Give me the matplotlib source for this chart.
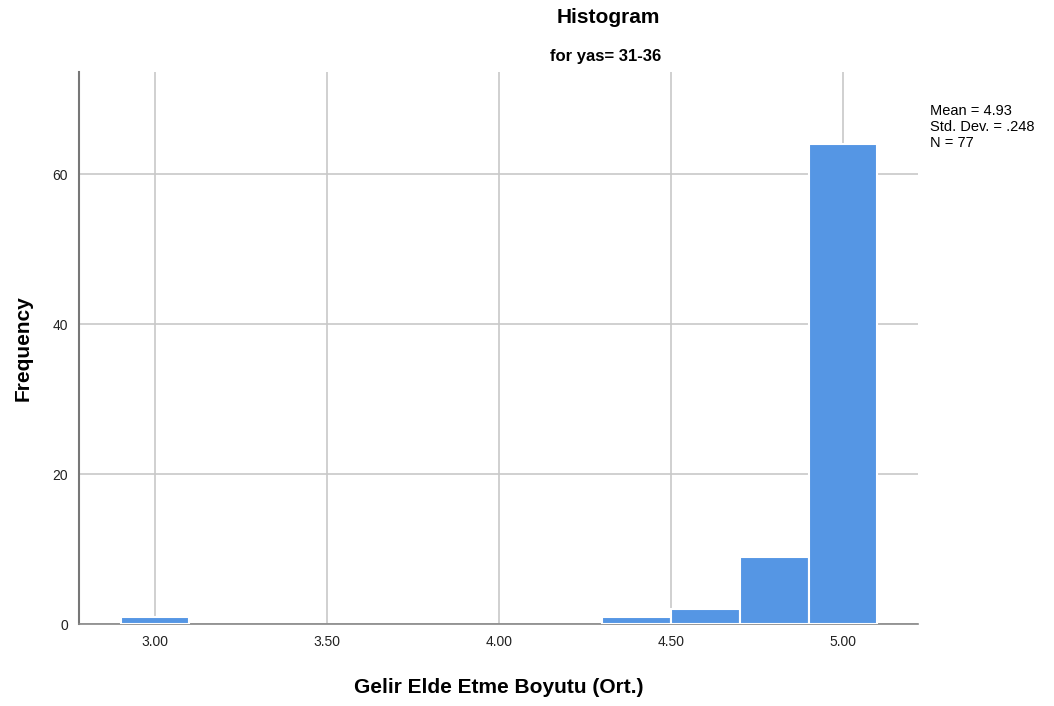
import matplotlib.pyplot as plt

plt.rcParams['font.family'] = ['Liberation Sans', 'DejaVu Sans']

# Histogram bins (centers) and frequencies
bin_centers = [3.00, 4.40, 4.60, 4.80, 5.00]
counts = [1, 1, 2, 9, 64]
bin_width = 0.2

x_ticks = [3.00, 3.50, 4.00, 4.50, 5.00]
x_tick_labels = ['3.00', '3.50', '4.00', '4.50', '5.00']
y_ticks = [0, 20, 40, 60]

stats_text = 'Mean = 4.93\nStd. Dev. = .248\nN = 77'

fig = plt.figure(figsize=(10.54, 7.06), dpi=100)
ax = fig.add_axes([0.075, 0.116, 0.796, 0.782])

ax.set_axisbelow(True)
ax.grid(True, color='#c8c8c8', linewidth=1.2)
ax.bar(bin_centers, counts, width=bin_width, color='#5596e4',
       edgecolor='white', linewidth=1.5, zorder=3)

ax.set_xlim(2.779, 5.218)
ax.set_ylim(0, 73.6)
ax.set_xticks(x_ticks)
ax.set_xticklabels(x_tick_labels)
ax.set_yticks(y_ticks)
ax.tick_params(length=0, labelsize=10, pad=8, colors='#222222')

for side in ['top', 'right']:
    ax.spines[side].set_visible(False)
ax.spines['left'].set_color('#777777')
ax.spines['left'].set_linewidth(1.5)
ax.spines['bottom'].set_color('#888888')
ax.spines['bottom'].set_linewidth(1.2)

ax.set_xlabel('Gelir Elde Etme Boyutu (Ort.)', fontsize=15, fontweight='bold', labelpad=21)
ax.set_ylabel('Frequency', fontsize=15, fontweight='bold', labelpad=14)

fig.text(0.577, 0.975, 'Histogram', ha='center', va='center',
         fontsize=15, fontweight='bold')
fig.text(0.575, 0.92, 'for yas= 31-36', ha='center', va='center',
         fontsize=12, fontweight='bold')
fig.text(0.882, 0.82, stats_text, ha='left', va='center',
         fontsize=10.5, linespacing=1.15)

plt.savefig('out.png', dpi=100)
